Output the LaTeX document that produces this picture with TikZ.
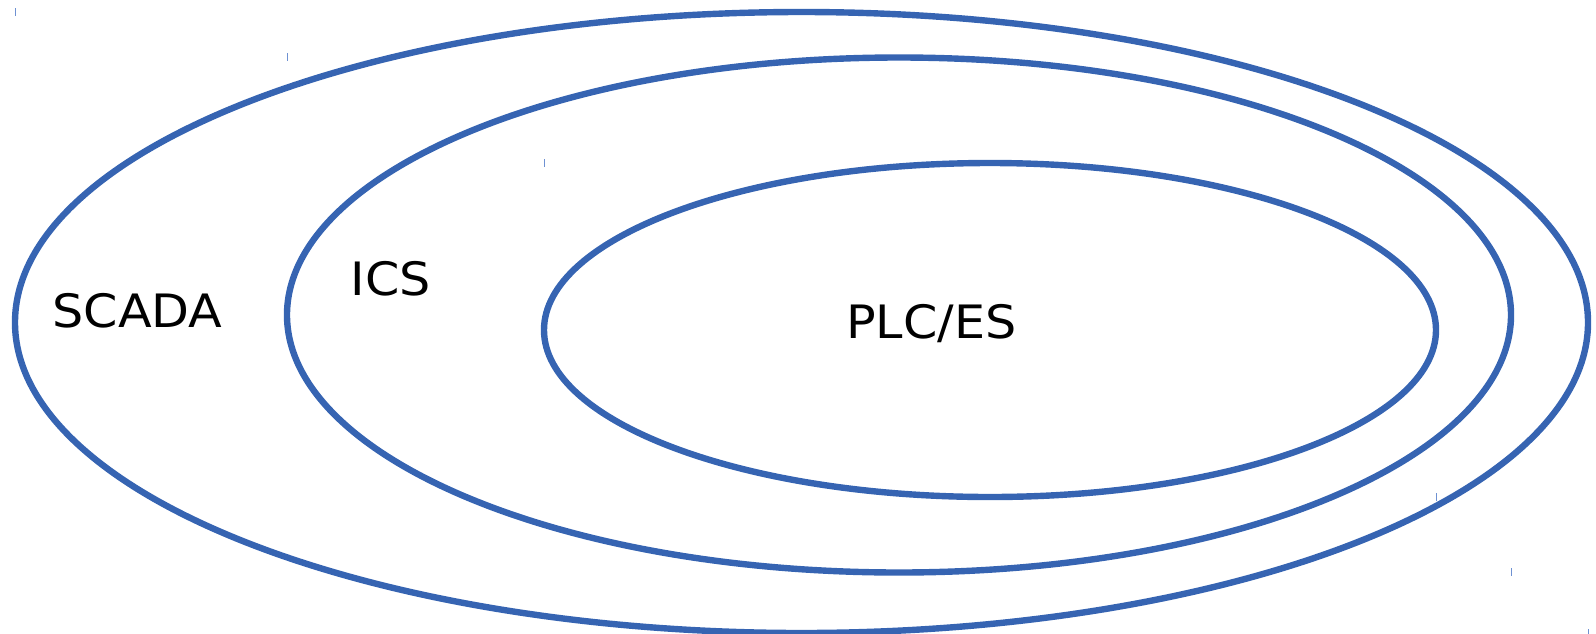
\documentclass[tikz,border=0pt]{standalone}
\usepackage{fontspec}
\setmainfont{DejaVu Sans}[FakeStretch=1.07]
\definecolor{ringblue}{RGB}{54,100,178}
\definecolor{tickblue}{RGB}{110,145,210}
\tikzset{
  ring/.style={draw=ringblue, line width=3.2pt},
  lbl/.style={font=\fontsize{23}{28}\selectfont, text=black, inner sep=0pt, anchor=base},
  tick/.style={draw=tickblue, line width=0.5pt}
}
\begin{document}
\begin{tikzpicture}[x=0.5pt,y=-0.5pt]
\useasboundingbox (0,0) rectangle (1596,633);
% rings
\draw[ring] (801.5,322.5) ellipse [x radius=786.5, y radius=310.5];
\draw[ring] (899,315) ellipse [x radius=612, y radius=257.5];
\draw[ring] (990,330) ellipse [x radius=446, y radius=167];
% corner ticks
\draw[tick] (15,8) -- (15,16);
\draw[tick] (1588,629) -- (1588,637);
\draw[tick] (287,53) -- (287,61);
\draw[tick] (1511,568) -- (1511,576);
\draw[tick] (544,159) -- (544,167);
\draw[tick] (1436,493) -- (1436,501);
% labels
\node[lbl] (scada) at (137.5,327) {SCADA};
\node[lbl] (ics) at (391,295) {ICS};
\node[lbl] (plc) at (931.5,338) {PLC/ES};
\end{tikzpicture}
\end{document}
